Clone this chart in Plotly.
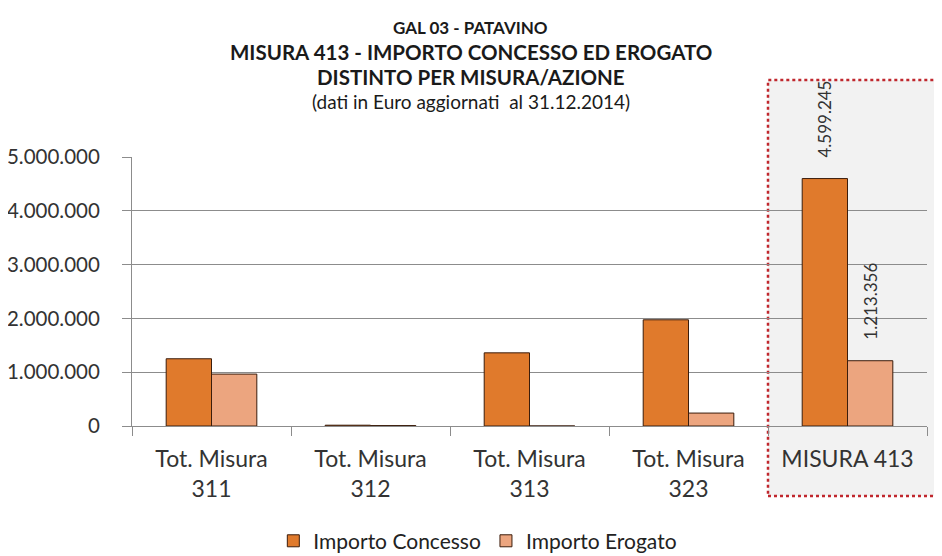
import plotly.graph_objects as go

# --- dati ---
categorie = ["Tot. Misura<br>311", "Tot. Misura<br>312", "Tot. Misura<br>313",
             "Tot. Misura<br>323", "MISURA 413"]
importo_concesso = [1250000, 15000, 1360000, 1974245, 4599245]
importo_erogato = [965000, 8000, 0, 240356, 1213356]
y_ticks = [0, 1000000, 2000000, 3000000, 4000000, 5000000]

FONT = "Lato, Open Sans, sans-serif"

fig = go.Figure()
fig.add_trace(go.Bar(
    name="Importo Concesso", x=categorie, y=importo_concesso,
    marker=dict(color="#E07A2C", line=dict(color="#3b1d0c", width=1)),
))
fig.add_trace(go.Bar(
    name="Importo Erogato", x=categorie, y=importo_erogato,
    marker=dict(color="#ECA57F", line=dict(color="#3b1d0c", width=1)),
))

# etichette solo sul totale (ultima categoria), ruotate
for valori, dx in [(importo_concesso, -23), (importo_erogato, 23)]:
    fig.add_annotation(x=categorie[-1], y=valori[-1], xshift=dx, yshift=19,
                       text=f"{valori[-1]:,}".replace(",", "."), textangle=-90,
                       showarrow=False, yanchor="bottom",
                       font=dict(size=17, color="#333333", family=FONT))

# riquadro MISURA 413
fig.add_shape(type="rect", xref="paper", yref="paper",
              x0=0.8, x1=1.016, y0=-0.26, y1=1.286, layer="below",
              fillcolor="#F2F2F2", line=dict(color="#C0272D", width=2.5, dash="dot"))

titoli = [
    ("<b>GAL 03 - PATAVINO</b>", 17, 1.4796),
    ("<b>MISURA 413 - IMPORTO CONCESSO ED EROGATO</b>", 20.5, 1.390),
    ("<b>DISTINTO PER MISURA/AZIONE</b>", 20.5, 1.297),
    ("(dati in Euro aggiornati  al 31.12.2014)", 19, 1.208),
]
for testo, size, yy in titoli:
    fig.add_annotation(text=testo, xref="paper", yref="paper", x=0.4264, y=yy,
                       xanchor="center", yanchor="middle", showarrow=False,
                       font=dict(size=size, color="#1a1a1a", family=FONT))

# la pagina ha 8px di margine nel body
fig.update_layout(
    width=934, height=548,
    margin=dict(l=124, r=15, t=149, b=130, autoexpand=False),
    paper_bgcolor="white", plot_bgcolor="rgba(0,0,0,0)",
    separators=",.",
    barmode="group", bargap=0.43, bargroupgap=0,
    font=dict(family=FONT, color="#333333"),
    showlegend=True,
    legend=dict(orientation="h", x=0.435, xanchor="center", y=-0.428, yanchor="middle",
                font=dict(size=21, color="#222222"),
                traceorder="normal"),
)
fig.update_yaxes(range=[0, 5000000], tickvals=y_ticks, tickformat=",d",
                 showgrid=True, gridcolor="#8c8c8c", gridwidth=1,
                 showline=True, linecolor="#8c8c8c", ticks="outside", ticklen=9,
                 tickcolor="#8c8c8c", zeroline=False, ticklabelstandoff=18,
                 tickfont=dict(size=20.5, color="#333333"))
fig.update_xaxes(showgrid=False, showline=True, linecolor="#8c8c8c",
                 ticks="outside", tickson="boundaries", ticklen=9, tickcolor="#8c8c8c",
                 ticklabelstandoff=12,
                 tickfont=dict(size=23, color="#333333"))

fig.write_html("out.html")
